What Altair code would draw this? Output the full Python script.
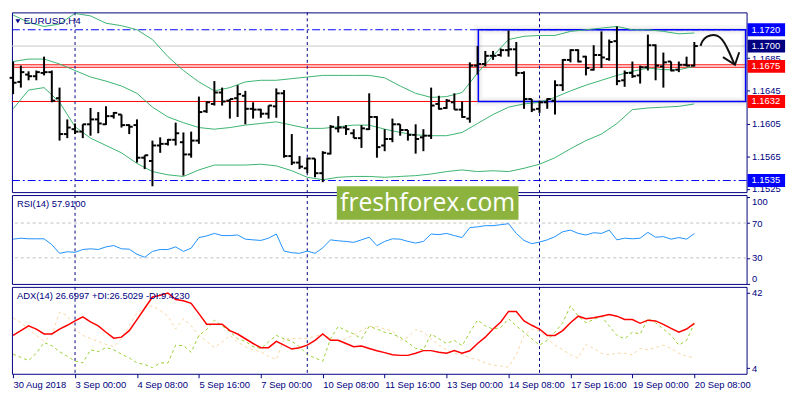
import json
import altair as alt
import pandas as pd

# ---------------- data ----------------
TIME_LABELS = ["30 Aug 2018", "3 Sep 00:00", "4 Sep 08:00", "5 Sep 16:00", "7 Sep 00:00",
               "10 Sep 08:00", "11 Sep 16:00", "13 Sep 00:00", "14 Sep 08:00",
               "17 Sep 16:00", "19 Sep 00:00", "20 Sep 08:00"]

OPEN = [1.1661, 1.1656, 1.1665, 1.1663, 1.1667, 1.1668, 1.1636, 1.1592, 1.1598, 1.1595,
        1.1604, 1.1610, 1.1604, 1.1614, 1.1616, 1.1603, 1.1603, 1.1563, 1.1559, 1.1578,
        1.1580, 1.1585, 1.1582, 1.1567, 1.1584, 1.1620, 1.1629, 1.1643, 1.1633, 1.1636,
        1.1639, 1.1623, 1.1622, 1.1617, 1.1626, 1.1642, 1.1565, 1.1557, 1.1550, 1.1562,
        1.1544, 1.1568, 1.1599, 1.1600, 1.1593, 1.1587, 1.1598, 1.1613, 1.1578, 1.1586,
        1.1604, 1.1597, 1.1591, 1.1588, 1.1590, 1.1629, 1.1624, 1.1631, 1.1622, 1.1611,
        1.1676, 1.1678, 1.1688, 1.1689, 1.1695, 1.1696, 1.1667, 1.1635, 1.1623, 1.1631,
        1.1633, 1.1652, 1.1683, 1.1695, 1.1687, 1.1671, 1.1689, 1.1684, 1.1706, 1.1658,
        1.1667, 1.1664, 1.1674, 1.1701, 1.1675, 1.1681, 1.1671, 1.1677, 1.1676]
HIGH = [1.1681, 1.1676, 1.1669, 1.1670, 1.1687, 1.1670, 1.1649, 1.1610, 1.1605, 1.1604,
        1.1624, 1.1619, 1.1626, 1.1619, 1.1616, 1.1604, 1.1610, 1.1566, 1.1584, 1.1588,
        1.1586, 1.1606, 1.1594, 1.1595, 1.1638, 1.1632, 1.1657, 1.1649, 1.1635, 1.1652,
        1.1645, 1.1631, 1.1623, 1.1627, 1.1648, 1.1646, 1.1592, 1.1565, 1.1563, 1.1562,
        1.1571, 1.1603, 1.1614, 1.1603, 1.1598, 1.1603, 1.1642, 1.1614, 1.1598, 1.1611,
        1.1604, 1.1597, 1.1604, 1.1598, 1.1649, 1.1639, 1.1635, 1.1642, 1.1632, 1.1680,
        1.1700, 1.1694, 1.1694, 1.1697, 1.1719, 1.1705, 1.1669, 1.1635, 1.1633, 1.1636,
        1.1658, 1.1684, 1.1696, 1.1696, 1.1688, 1.1701, 1.1718, 1.1708, 1.1724, 1.1670,
        1.1681, 1.1676, 1.1714, 1.1702, 1.1692, 1.1681, 1.1681, 1.1687, 1.1705]
LOW = [1.1641, 1.1649, 1.1658, 1.1658, 1.1664, 1.1631, 1.1584, 1.1587, 1.1592, 1.1587,
       1.1590, 1.1593, 1.1603, 1.1611, 1.1600, 1.1592, 1.1557, 1.1549, 1.1528, 1.1569,
       1.1578, 1.1578, 1.1541, 1.1563, 1.1580, 1.1618, 1.1627, 1.1627, 1.1611, 1.1613,
       1.1604, 1.1611, 1.1612, 1.1611, 1.1612, 1.1563, 1.1554, 1.1549, 1.1544, 1.1539,
       1.1533, 1.1567, 1.1594, 1.1591, 1.1587, 1.1575, 1.1597, 1.1563, 1.1571, 1.1582,
       1.1590, 1.1584, 1.1568, 1.1571, 1.1586, 1.1622, 1.1623, 1.1622, 1.1612, 1.1606,
       1.1665, 1.1675, 1.1683, 1.1687, 1.1687, 1.1663, 1.1623, 1.1619, 1.1618, 1.1623,
       1.1616, 1.1645, 1.1680, 1.1680, 1.1664, 1.1670, 1.1673, 1.1682, 1.1652, 1.1650,
       1.1661, 1.1654, 1.1670, 1.1658, 1.1649, 1.1669, 1.1668, 1.1675, 1.1675]
CLOSE = [1.1655, 1.1668, 1.1663, 1.1668, 1.1668, 1.1633, 1.1592, 1.1600, 1.1595, 1.1604,
         1.1610, 1.1605, 1.1614, 1.1618, 1.1603, 1.1601, 1.1563, 1.1566, 1.1578, 1.1580,
         1.1585, 1.1593, 1.1567, 1.1584, 1.1619, 1.1631, 1.1643, 1.1632, 1.1635, 1.1641,
         1.1623, 1.1622, 1.1617, 1.1627, 1.1642, 1.1565, 1.1557, 1.1552, 1.1562, 1.1544,
         1.1569, 1.1601, 1.1600, 1.1598, 1.1587, 1.1599, 1.1613, 1.1576, 1.1586, 1.1604,
         1.1597, 1.1591, 1.1586, 1.1590, 1.1627, 1.1623, 1.1633, 1.1622, 1.1613, 1.1676,
         1.1678, 1.1688, 1.1688, 1.1695, 1.1696, 1.1667, 1.1635, 1.1622, 1.1631, 1.1635,
         1.1652, 1.1683, 1.1695, 1.1681, 1.1673, 1.1689, 1.1686, 1.1705, 1.1657, 1.1667,
         1.1663, 1.1674, 1.1701, 1.1676, 1.1680, 1.1670, 1.1677, 1.1676, 1.1700]

# Bollinger bands, read every second bar
BB_BAR = list(range(0, 89, 2))
BB_UPPER = [1.1738, 1.1729, 1.1724, 1.1727, 1.1740, 1.1737, 1.1728, 1.1725, 1.1720, 1.1708,
            1.1687, 1.1670, 1.1656, 1.1645, 1.1649, 1.1656, 1.1658, 1.1658, 1.1660, 1.1662,
            1.1664, 1.1664, 1.1664, 1.1664, 1.1661, 1.1651, 1.1642, 1.1637, 1.1638, 1.1643,
            1.1667, 1.1688, 1.1708, 1.1712, 1.1713, 1.1713, 1.1718, 1.1720, 1.1722, 1.1724,
            1.1720, 1.1720, 1.1718, 1.1715, 1.1716]
BB_MIDDLE = [1.1681, 1.1684, 1.1684, 1.1678, 1.1670, 1.1662, 1.1657, 1.1651, 1.1642, 1.1625,
             1.1613, 1.1606, 1.1600, 1.1598, 1.1600, 1.1603, 1.1605, 1.1607, 1.1603, 1.1599,
             1.1599, 1.1601, 1.1603, 1.1603, 1.1598, 1.1594, 1.1591, 1.1590, 1.1590, 1.1594,
             1.1605, 1.1616, 1.1625, 1.1629, 1.1631, 1.1637, 1.1645, 1.1652, 1.1658, 1.1664,
             1.1669, 1.1673, 1.1671, 1.1671, 1.1675]
BB_LOWER = [1.1623, 1.1646, 1.1649, 1.1631, 1.1601, 1.1587, 1.1578, 1.1569, 1.1556, 1.1546,
            1.1542, 1.1540, 1.1548, 1.1554, 1.1554, 1.1554, 1.1555, 1.1553, 1.1547, 1.1539,
            1.1536, 1.1539, 1.1540, 1.1540, 1.1539, 1.1540, 1.1541, 1.1543, 1.1546, 1.1548,
            1.1546, 1.1547, 1.1546, 1.1550, 1.1555, 1.1563, 1.1574, 1.1584, 1.1592, 1.1605,
            1.1622, 1.1624, 1.1625, 1.1626, 1.1629]

RSI = [51.5, 52.6, 51.9, 51.9, 51.9, 45.2, 35.2, 37.0, 36.3, 39.6,
       40.4, 39.6, 42.6, 44.1, 40.4, 40.0, 34.1, 30.7, 37.4, 39.6,
       39.6, 42.6, 37.4, 41.1, 53.3, 55.2, 58.1, 55.6, 55.6, 56.3,
       51.5, 50.7, 50.0, 52.6, 57.4, 37.8, 35.9, 35.2, 37.8, 35.2,
       41.5, 50.7, 49.6, 48.9, 47.8, 50.7, 53.7, 44.1, 48.9, 51.9,
       51.5, 48.9, 47.0, 48.9, 57.4, 56.7, 58.1, 55.6, 53.3, 64.8,
       65.6, 67.0, 67.0, 68.1, 69.3, 58.1, 50.0, 46.3, 48.1, 50.7,
       54.4, 60.0, 61.9, 58.1, 56.3, 58.9, 58.1, 61.9, 50.7, 52.6,
       51.9, 52.6, 59.3, 53.7, 54.4, 51.5, 53.3, 51.5, 57.9]
ADX = [20.6, 23.0, 25.4, 23.8, 21.3, 21.3, 23.8, 25.7, 27.9, 30.0,
       27.4, 25.4, 22.2, 19.2, 19.7, 23.0, 28.6, 34.3, 40.0, 40.8,
       42.0, 38.7, 38.1, 36.8, 31.6, 26.2, 26.2, 26.2, 23.0, 21.3,
       18.9, 16.5, 14.4, 14.4, 17.6, 15.7, 13.7, 14.4, 15.7, 18.1,
       21.3, 18.1, 18.1, 16.5, 14.9, 15.2, 14.0, 12.8, 11.9, 10.8,
       10.5, 10.5, 11.6, 12.9, 12.9, 12.1, 11.6, 12.9, 11.6, 12.8,
       16.5, 19.7, 23.8, 27.4, 32.7, 32.7, 27.9, 25.7, 23.8, 20.6,
       20.6, 23.0, 27.0, 30.3, 29.0, 29.5, 30.3, 31.1, 30.3, 28.6,
       28.6, 26.7, 28.3, 27.9, 26.2, 24.1, 22.2, 23.8, 26.7]
PLUS_DI = [11.1, 9.5, 7.9, 11.6, 17.0, 15.4, 12.4, 10.0, 7.6, 6.7,
           13.3, 12.4, 14.5, 13.3, 11.1, 9.2, 6.7, 5.9, 4.3, 6.7,
           6.7, 15.7, 15.4, 12.1, 20.6, 23.5, 28.3, 25.4, 22.5, 18.9,
           17.6, 14.9, 14.0, 17.3, 20.6, 18.9, 17.6, 14.9, 10.8, 9.2,
           7.6, 18.9, 25.1, 23.0, 21.3, 18.9, 25.1, 23.8, 22.2, 21.3,
           19.7, 17.0, 14.0, 13.3, 21.3, 18.9, 16.5, 18.1, 15.4, 22.2,
           28.3, 25.4, 23.8, 24.6, 29.0, 25.4, 22.2, 18.9, 15.7, 18.1,
           22.2, 27.0, 35.5, 30.3, 27.0, 28.6, 30.3, 25.4, 20.6, 18.9,
           22.2, 21.3, 29.0, 27.0, 23.8, 20.6, 15.7, 18.1, 26.5]
MINUS_DI = [29.5, 27.0, 23.8, 20.6, 17.6, 20.9, 32.3, 30.6, 23.8, 20.6,
            18.9, 17.6, 16.0, 14.9, 18.9, 25.4, 31.9, 34.8, 35.5, 33.2,
            30.3, 23.8, 29.0, 25.4, 20.6, 17.6, 14.4, 17.3, 20.6, 17.3,
            14.9, 13.3, 12.4, 10.0, 8.4, 18.9, 18.9, 19.1, 19.1, 20.1,
            21.3, 19.1, 17.6, 18.9, 20.9, 23.0, 25.1, 25.1, 23.8, 23.0,
            18.1, 19.7, 23.5, 22.2, 18.9, 15.7, 13.3, 11.6, 10.8, 9.2,
            8.4, 6.7, 5.6, 5.1, 4.6, 10.8, 20.6, 23.8, 23.0, 18.9,
            15.7, 13.3, 10.8, 9.2, 16.0, 14.0, 11.6, 10.8, 11.6, 11.6,
            10.8, 14.0, 13.3, 14.4, 15.7, 14.0, 11.6, 10.0, 9.4]

SEPARATORS = [8, 38, 68]
TIME_TICKS = list(range(0, 89, 8))
PRICE_TICKS = [1.1525, 1.1565, 1.1605, 1.1645, 1.1685]
DASHDOT_LEVELS = [1.1720, 1.1535]
CURRENT_PRICE = 1.1700
RED_LEVELS = [1.1677, 1.1674, 1.1632]
BOX_START = 60.1
BOX_TOP = 1.1720
BOX_BOTTOM = 1.1632
LABEL_PRICES = [1.1720, 1.1700, 1.1675, 1.1632, 1.1535]
LABEL_TEXTS = ["1.1720", "1.1700", "1.1675", "1.1632", "1.1535"]
LABEL_COLORS = ["#0000FF", "#000080", "#FF0000", "#FF0000", "#0000FF"]
ARROW_BAR = [88.8, 89.0, 89.6, 90.5, 91.25, 91.9, 92.5, 93.2]
ARROW_PRICE = [1.17002, 1.17061, 1.17121, 1.17141, 1.17121, 1.17046, 1.16927, 1.16773]
HEAD_BAR = [91.7, 93.25, 93.8]
HEAD_PRICE = [1.16864, 1.16770, 1.16924]
RSI_LEVELS = [70, 30]
RSI_TICKS = [0, 30, 70, 100]
ADX_TICKS = [4, 42]

# ---------------- styling ----------------
W, H1, H2, H3 = 744, 182, 90, 88
NAVY = "#000080"
FONT = "Liberation Sans"
FS = 9.5
GREEN_BB = "#3CB371"

XS = alt.Scale(domain=[-0.15, 94.75], nice=False, zero=False)
YS_P = alt.Scale(domain=[1.15208, 1.17413], nice=False, zero=False)
YS_R = alt.Scale(domain=[0, 102.2], nice=False, zero=False)
YS_A = alt.Scale(domain=[1.2, 45.1], nice=False, zero=False)

one = pd.DataFrame({"z": [0]})


def xe(field):
    return alt.X(field, type="quantitative", scale=XS, axis=None)


price_axis = alt.Axis(orient="right", values=PRICE_TICKS, format=".4f", labelColor=NAVY,
                      tickColor=NAVY, tickSize=3, domain=False, grid=False, title=None,
                      labelFont=FONT, labelFontSize=FS, labelPadding=2)


def yp(field):
    return alt.Y(field, type="quantitative", scale=YS_P, axis=price_axis)


sep_df = pd.DataFrame({"k": SEPARATORS})


def separators(x_enc):
    return alt.Chart(sep_df).mark_rule(color=NAVY, strokeDash=[3, 3], strokeWidth=1).encode(x=x_enc)


# ---------------- price panel ----------------
bars = pd.DataFrame({"k": list(range(len(OPEN))), "o": OPEN, "h": HIGH, "l": LOW, "c": CLOSE})
bands = pd.DataFrame({"k": BB_BAR, "upper": BB_UPPER, "middle": BB_MIDDLE, "lower": BB_LOWER})

lv_blue = alt.Chart(pd.DataFrame({"p": DASHDOT_LEVELS})).mark_rule(
    color="#0000FF", strokeDash=[8, 3, 2, 3], strokeWidth=1).encode(y=yp("p"))
lv_gray = alt.Chart(pd.DataFrame({"p": [CURRENT_PRICE]})).mark_rule(
    color="#C8C8C8", strokeWidth=1).encode(y=yp("p"))
lv_red = alt.Chart(pd.DataFrame({"p": RED_LEVELS})).mark_rule(
    color="#FF0000", strokeWidth=1).encode(y=yp("p"))

box_df = pd.DataFrame({"k0": [BOX_START], "top": [BOX_TOP], "bot": [BOX_BOTTOM]})
box_enc = dict(x=xe("k0"), x2=alt.value(W - 1), y=yp("top"), y2=alt.Y2("bot"))
shadow1 = alt.Chart(box_df).mark_rect(fillOpacity=0, stroke="#808080", strokeWidth=9,
                                      strokeOpacity=0.07).encode(**box_enc)
shadow2 = alt.Chart(box_df).mark_rect(fillOpacity=0, stroke="#808080", strokeWidth=4,
                                      strokeOpacity=0.12).encode(**box_enc)
box = alt.Chart(box_df).mark_rect(fillOpacity=0, stroke="#0000FF", strokeWidth=1.5).encode(**box_enc)

bb = alt.Chart(bands).transform_fold(["upper", "middle", "lower"], as_=["band", "v"]).mark_line(
    color=GREEN_BB, strokeWidth=1).encode(x=xe("k"), y=yp("v"), detail="band:N")

hl = alt.Chart(bars).mark_rule(color="black", strokeWidth=2).encode(
    x=xe("k"), y=yp("l"), y2=alt.Y2("h"))
op = alt.Chart(bars).transform_calculate(kl="datum.k - 0.45").mark_rule(
    color="black", strokeWidth=2).encode(x=xe("kl"), x2=alt.X2("k"), y=yp("o"))
cl = alt.Chart(bars).transform_calculate(kr="datum.k + 0.45").mark_rule(
    color="black", strokeWidth=2).encode(x=xe("k"), x2=alt.X2("kr"), y=yp("c"))

arrow_df = pd.DataFrame({"k": ARROW_BAR, "p": ARROW_PRICE, "i": list(range(len(ARROW_BAR)))})
arrow = alt.Chart(arrow_df).mark_line(interpolate="basis", color="#111111", strokeWidth=2).encode(
    x=xe("k"), y=yp("p"), order="i:Q")
head_df = pd.DataFrame({"k": HEAD_BAR, "p": HEAD_PRICE, "i": [0, 1, 2]})
head = alt.Chart(head_df).mark_line(color="#111111", strokeWidth=2).encode(
    x=xe("k"), y=yp("p"), order="i:Q")

tri = alt.Chart(one).mark_point(shape="triangle-down", filled=True, size=24, color=NAVY,
                                opacity=1).encode(x=alt.value(6), y=alt.value(9))
ptitle = alt.Chart(one).mark_text(text="EURUSD,H4", align="left", baseline="middle", font=FONT,
                                  fontSize=10, color=NAVY).encode(x=alt.value(12), y=alt.value(9))

lab_df = pd.DataFrame({"p": LABEL_PRICES, "t": LABEL_TEXTS, "col": LABEL_COLORS})
lab_box = alt.Chart(lab_df).mark_rule(strokeWidth=13, strokeCap="butt").encode(
    x=alt.value(W + 1), x2=alt.value(W + 39), y=yp("p"), color=alt.Color("col:N", scale=None))
lab_txt = alt.Chart(lab_df).mark_text(align="left", baseline="middle", color="white", font=FONT,
                                      fontSize=FS).encode(x=alt.value(W + 5), y=yp("p"), text="t:N")

price = alt.layer(lv_blue, lv_gray, lv_red, shadow1, shadow2, box, bb, separators(xe("k")),
                  hl, op, cl, arrow, head, tri, ptitle, lab_box, lab_txt).properties(width=W, height=H1)

# ---------------- RSI panel ----------------
rsi_axis = alt.Axis(orient="right", values=RSI_TICKS, labelColor=NAVY, tickColor=NAVY, tickSize=3,
                    domain=False, grid=False, title=None, labelFont=FONT, labelFontSize=FS,
                    labelPadding=2,
                    labelBaseline={"condition": [{"test": "datum.value >= 100", "value": "top"},
                                                 {"test": "datum.value <= 0", "value": "bottom"}],
                                   "value": "middle"})


def yr(field):
    return alt.Y(field, type="quantitative", scale=YS_R, axis=rsi_axis)


rsi_df = pd.DataFrame({"k": list(range(len(RSI))), "rsi": RSI})
rsi_lv = alt.Chart(pd.DataFrame({"v": RSI_LEVELS})).mark_rule(
    color="#C0C0C0", strokeDash=[3, 3], strokeWidth=1).encode(y=yr("v"))
rsi_line = alt.Chart(rsi_df).mark_line(color="#1E90FF", strokeWidth=1).encode(x=xe("k"), y=yr("rsi"))
rtitle = alt.Chart(one).mark_text(text="RSI(14) 57.9100", align="left", baseline="middle", font=FONT,
                                  fontSize=FS, color=NAVY).encode(x=alt.value(5), y=alt.value(9))
wm_box = alt.Chart(one).mark_rect(color="#8DB33F").encode(
    x=alt.value(329), x2=alt.value(513), y=alt.value(-9), y2=alt.value(25))
wm_txt = alt.Chart(one).mark_text(text="freshforex.com", align="center", baseline="middle",
                                  font="Open Sans", fontSize=25, color="white").encode(
    x=alt.value(421), y=alt.value(8))

rsi = alt.layer(rsi_lv, separators(xe("k")), rsi_line, rtitle, wm_box, wm_txt).properties(
    width=W, height=H2)

# ---------------- ADX panel ----------------
time_axis = alt.Axis(values=TIME_TICKS, labelExpr=json.dumps(TIME_LABELS) + "[round(datum.value / 8)]",
                     labelAlign="left", labelColor=NAVY, tickColor=NAVY, tickSize=4, domain=False,
                     grid=False, title=None, labelFont=FONT, labelFontSize=FS, labelPadding=2,
                     labelOverlap=False, labelBound=False, labelFlush=False)


def xa(field):
    return alt.X(field, type="quantitative", scale=XS, axis=time_axis)


adx_axis = alt.Axis(orient="right", values=ADX_TICKS, labelColor=NAVY, tickColor=NAVY, tickSize=3,
                    domain=False, grid=False, title=None, labelFont=FONT, labelFontSize=FS,
                    labelPadding=2)


def ya(field):
    return alt.Y(field, type="quantitative", scale=YS_A, axis=adx_axis)


adx_df = pd.DataFrame({"k": list(range(len(ADX))), "adx": ADX, "pdi": PLUS_DI, "mdi": MINUS_DI})
mdi = alt.Chart(adx_df).mark_line(color="#F8D6A8", strokeDash=[3, 3], strokeWidth=1).encode(
    x=xa("k"), y=ya("mdi"))
pdi = alt.Chart(adx_df).mark_line(color="#9ACD32", strokeDash=[3, 3], strokeWidth=1).encode(
    x=xa("k"), y=ya("pdi"))
adx_line = alt.Chart(adx_df).mark_line(color="#FF0000", strokeWidth=1.5).encode(x=xa("k"), y=ya("adx"))
atitle = alt.Chart(one).mark_text(text="ADX(14) 26.6997 +DI:26.5029 -DI:9.4230", align="left",
                                  baseline="middle", font=FONT, fontSize=FS, color=NAVY).encode(
    x=alt.value(5), y=alt.value(9))

adx = alt.layer(separators(xa("k")), mdi, pdi, adx_line, atitle).properties(width=W, height=H3)

chart = alt.vconcat(price, rsi, adx, spacing=3, bounds="flush").properties(
    padding={"left": 0, "top": 0, "right": 0, "bottom": 0}, background="#FFFFFF"
).configure_view(stroke=NAVY, strokeWidth=1)

chart.save("out.html", embed_options={"renderer": "svg", "actions": False})
